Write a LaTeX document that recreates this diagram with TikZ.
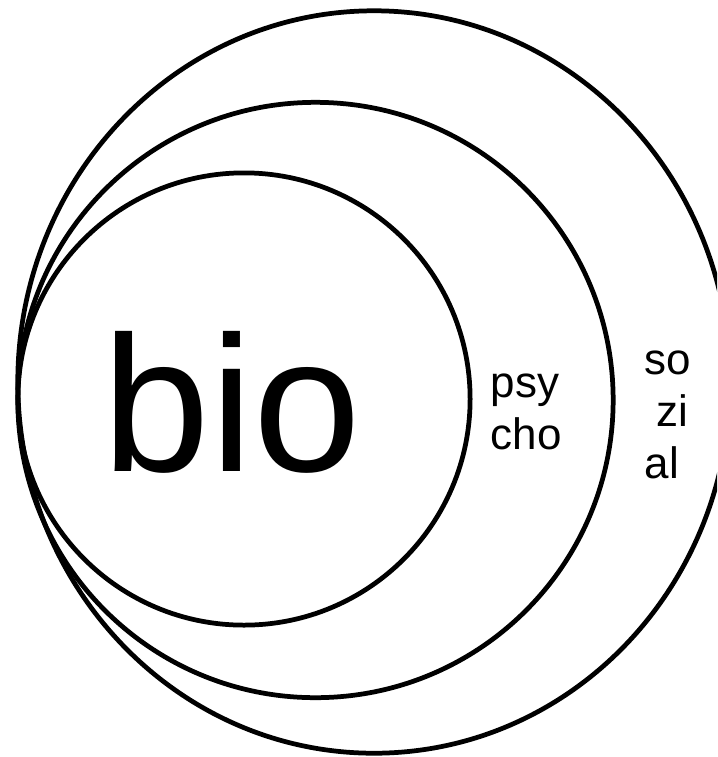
\documentclass[tikz,border=0pt]{standalone}
\usepackage{fontspec}
\setmainfont{Liberation Sans}

\begin{document}
\begin{tikzpicture}[x=0.01cm,y=-0.01cm,
  ring/.style={line width=1.35pt},
  lbl/.style={inner sep=0pt,align=left,font=\fontsize{12.5}{14.7}\selectfont}]
  \useasboundingbox (0,0) rectangle (717,757);
  \clip (0,0) rectangle (717,757);
  \coordinate (S) at (374,382); \coordinate (P) at (315.5,400);
  \coordinate (B) at (244,399);
  \draw[ring] (S) ellipse [x radius=3.56cm, y radius=3.71cm];
  \draw[ring] (P) circle [radius=2.975cm];
  \draw[ring] (B) circle [radius=2.26cm];
  \node[inner sep=0pt,anchor=base,font=\fontsize{55}{66}\selectfont] (bio) at (232,471){bio};
  \node[lbl,anchor=base west] (psycho) at (490,449){psy\\cho};
  \node[lbl,anchor=base west] (sozial) at (644,478){so\\\ zi\\al};
\end{tikzpicture}
\end{document}
